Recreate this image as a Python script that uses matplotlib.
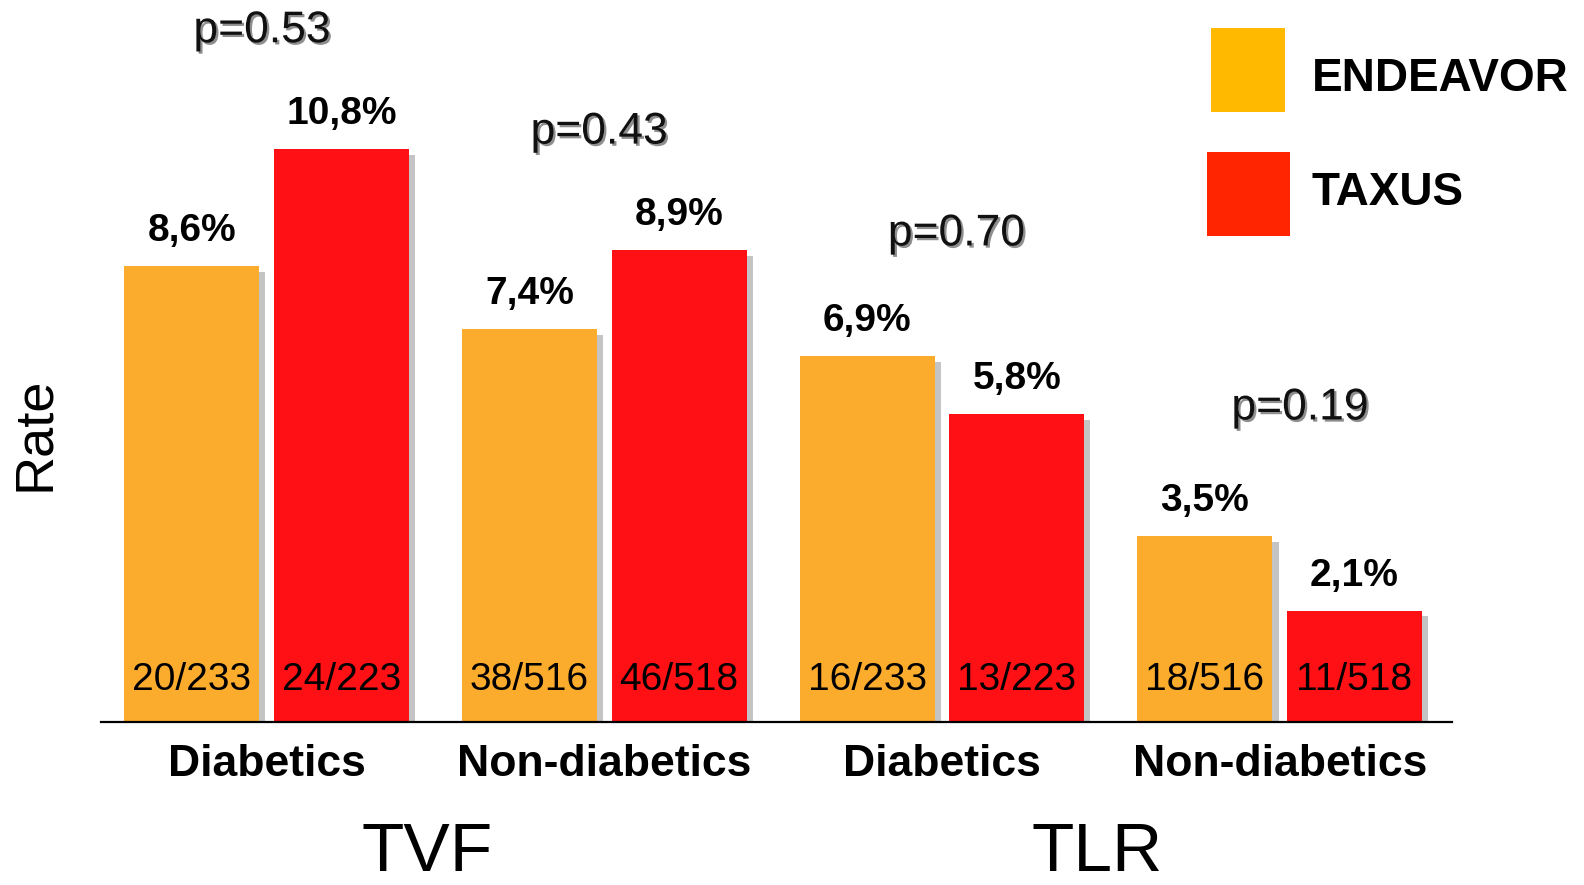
import matplotlib
matplotlib.use("Agg")
import matplotlib.pyplot as plt
import matplotlib.patheffects as pe
from matplotlib.patches import Rectangle
import numpy as np

# ---------------- data ----------------
groups = ["Diabetics", "Non-diabetics", "Diabetics", "Non-diabetics"]
endeavor = [8.6, 7.4, 6.9, 3.5]
taxus = [10.8, 8.9, 5.8, 2.1]
endeavor_n = ["20/233", "38/516", "16/233", "18/516"]
taxus_n = ["24/223", "46/518", "13/223", "11/518"]
pvals = ["p=0.53", "p=0.43", "p=0.70", "p=0.19"]
endpoints = ["TVF", "TLR"]
series_names = ["ENDEAVOR", "TAXUS"]

# ---------------- style / layout ----------------
W, H = 1584, 885
C_END = "#FCAC2D"
C_TAX = "#FE1014"
C_LEG_END = "#FFBA00"
C_LEG_TAX = "#FF2500"
C_SHADOW = "#C4C4C4"
FONT = "Liberation Sans"

fig = plt.figure(figsize=(W / 100, H / 100), dpi=100)
fig.patch.set_facecolor("white")

def fx(px):
    return px / W

def fy(py):
    return 1 - py / H

ax_left, ax_right, ax_base = 101, 1452, 722
ax = fig.add_axes([fx(ax_left), fy(ax_base), fx(ax_right - ax_left), ax_base / H])
x = np.arange(len(groups))
ax.set_xlim(-0.49, 3.51)
ax.set_ylim(0, 13.61)

bw = 0.40
off = 0.2215
sh_dx = 0.018
sh_dy = 0.11

# shadows
ax.bar(x - off + sh_dx, np.array(endeavor) - sh_dy, width=bw, color=C_SHADOW, zorder=1)
ax.bar(x + off + sh_dx, np.array(taxus) - sh_dy, width=bw, color=C_SHADOW, zorder=1)
# bars
ax.bar(x - off, endeavor, width=bw, color=C_END, zorder=2)
ax.bar(x + off, taxus, width=bw, color=C_TAX, zorder=2)

for spine in ["top", "right", "left"]:
    ax.spines[spine].set_visible(False)
ax.spines["bottom"].set_linewidth(1.6)
ax.spines["bottom"].set_zorder(5)
ax.set_xticks([])
ax.set_yticks([])
ax.patch.set_alpha(0)

def pct(v):
    return f"{v:.1f}%".replace(".", ",")

for i in range(len(groups)):
    for xc, v, n in [(x[i] - off, endeavor[i], endeavor_n[i]), (x[i] + off, taxus[i], taxus_n[i])]:
        ax.annotate(pct(v), (xc, v), xytext=(0, 18), textcoords="offset points",
                    ha="center", va="baseline", fontsize=28, fontweight="bold",
                    family=FONT, color="black", zorder=6)
        ax.text(xc, 0.6, n, ha="center", va="baseline", fontsize=28,
                family=FONT, color="black", zorder=6)
    ax.text(x[i], -0.80, groups[i], ha="center", va="center", fontsize=32,
            fontweight="bold", family=FONT, color="black", clip_on=False)

# p-values (layout positions)
p_x = [-0.013, 0.985, 2.043, 3.06]
p_y = [13.03, 11.12, 9.2, 5.92]
for i, p in enumerate(pvals):
    ax.text(p_x[i], p_y[i], p, ha="center", va="center", fontsize=32, family=FONT,
            color="#111111", clip_on=False,
            path_effects=[pe.withSimplePatchShadow(offset=(1.6, -1.6), shadow_rgbFace="#333333", alpha=0.55)])

# endpoint labels (baseline near bottom edge as in the reference)
fig.text(fx(427), fy(871), endpoints[0], ha="center", va="baseline", fontsize=50,
         family=FONT, color="black")
fig.text(fx(1097), fy(871), endpoints[1], ha="center", va="baseline", fontsize=50,
         family=FONT, color="black")

# y label
fig.text(fx(35), fy(434), "Rate", rotation=90, ha="center", va="center",
         fontsize=39, family=FONT, color="black")

# legend
fig.add_artist(Rectangle((fx(1211), fy(112)), fx(1285 - 1211), (112 - 28) / H,
                         transform=fig.transFigure, facecolor=C_LEG_END, edgecolor="none"))
fig.add_artist(Rectangle((fx(1207), fy(236)), fx(1290 - 1207), (236 - 152) / H,
                         transform=fig.transFigure, facecolor=C_LEG_TAX, edgecolor="none"))
fig.text(fx(1312), fy(79), series_names[0], ha="left", va="center", fontsize=33,
         fontweight="bold", family=FONT, color="black")
fig.text(fx(1312), fy(193), series_names[1], ha="left", va="center", fontsize=33,
         fontweight="bold", family=FONT, color="black")

fig.savefig("out.png", dpi=100, facecolor="white")
